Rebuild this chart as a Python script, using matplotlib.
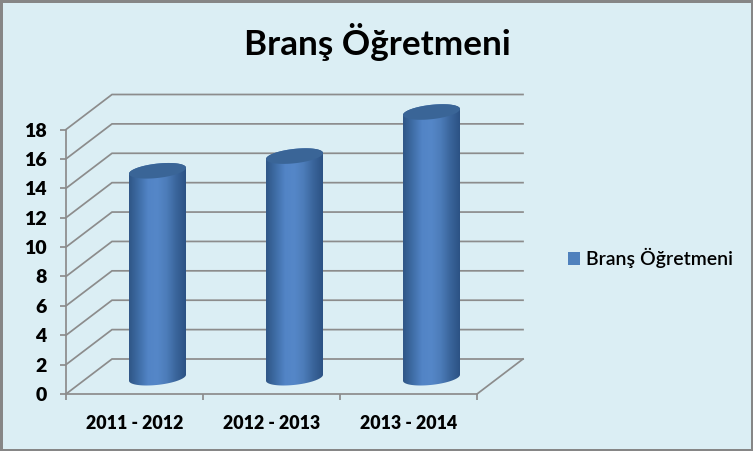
import numpy as np
import matplotlib
matplotlib.use("Agg")
import matplotlib.pyplot as plt
from matplotlib.colors import LinearSegmentedColormap
from matplotlib.patches import Patch, Polygon, Rectangle

categories = ["2011 - 2012", "2012 - 2013", "2013 - 2014"]
series_name = "Branş Öğretmeni"
values = [14, 15, 18]
y_ticks = [0, 2, 4, 6, 8, 10, 12, 14, 16, 18]

W, H = 753, 451
BG = "#DBEEF4"
LINE = "#8C8C8C"
plt.rcParams["font.family"] = ["Lato", "DejaVu Sans"]

fig = plt.figure(figsize=(W / 100, H / 100), dpi=100, facecolor=BG)
fig.add_artist(Rectangle((0, 0), 1, 1, transform=fig.transFigure, fill=False,
                         edgecolor="#868686", linewidth=3.6, zorder=20))

L, R, T, B = 66, 477, 129.5, 394
ax = fig.add_axes([L / W, 1 - B / H, (R - L) / W, (B - T) / H])
ax.set_xlim(-0.5, 2.5)
ax.set_ylim(0, 18)
ax.patch.set_alpha(0)

px_x = (R - L) / 3
px_y = (B - T) / 18
DX = 46 / px_x    # depth shift in category units
DY = 35 / px_y    # depth shift in value units

# walls
for v in y_ticks:
    ax.plot([-0.5, -0.5 + DX, 2.5 + DX], [v, v + DY, v + DY], color=LINE, lw=1.25,
            clip_on=False, zorder=1, solid_joinstyle="miter")
ax.plot([2.5, 2.5 + DX], [0, DY], color=LINE, lw=1.25, clip_on=False, zorder=1)

for s in ("top", "right"):
    ax.spines[s].set_visible(False)
for s in ("left", "bottom"):
    ax.spines[s].set_color(LINE)
    ax.spines[s].set_linewidth(1.25)
    ax.spines[s].set_zorder(1)

ax.set_yticks(y_ticks)
ax.set_xticks([-0.5, 0.5, 1.5, 2.5])
ax.set_xticklabels([])
ax.set_xticks([0, 1, 2], minor=True)
ax.set_xticklabels(categories, minor=True, fontsize=12.8, fontweight="heavy")
ax.tick_params(axis="x", which="major", length=4.5, width=1.25, color=LINE)
ax.tick_params(axis="x", which="minor", length=0, pad=15)
ax.tick_params(axis="y", length=4.5, width=1.25, color=LINE, pad=9.5, labelsize=14)
for t in ax.get_yticklabels():
    t.set_fontweight("heavy")

# cylinders
cmap = LinearSegmentedColormap.from_list(
    "cyl", ["#2F5686", "#3F6DA6", "#5284C6", "#5587C8", "#4C7CB9", "#3A659B", "#2C5284"])
grad = np.linspace(0, 1, 128).reshape(1, -1)
half_w = 28.5 / px_x
b = 7.2 / px_y
s = 3.0 / px_y
t = np.linspace(0, 2 * np.pi, 120)

for i, v in enumerate(values):
    cx = i + DX / 2
    y0 = DY / 2 - 1.2 / px_y
    y1 = v + DY / 2
    xs_top = cx + half_w * np.cos(t)
    ys_top = y1 + b * np.sin(t) + s * np.cos(t)
    xs_low = cx + half_w * np.cos(t[60:])
    ys_low = y0 + b * np.sin(t[60:]) + s * np.cos(t[60:])
    body = np.column_stack([
        np.r_[cx + half_w * np.cos(t[:60]), xs_low],
        np.r_[y1 + b * np.sin(t[:60]) + s * np.cos(t[:60]), ys_low],
    ])
    clip = Polygon(body, closed=True, transform=ax.transData, facecolor="none", edgecolor="none")
    ax.add_patch(clip)
    clip.set_clip_on(False)
    im = ax.imshow(grad, cmap=cmap, aspect="auto", zorder=3,
                   extent=[cx - half_w, cx + half_w, y0 - 1, y1 + 1], interpolation="bilinear")
    im.set_clip_box(fig.bbox)
    im.set_clip_path(clip)
    ax.add_patch(Polygon(np.column_stack([xs_top, ys_top]), closed=True, facecolor="#3A6597",
                         edgecolor="none", zorder=4, clip_on=False))

ax.set_xlim(-0.5, 2.5)
ax.set_ylim(0, 18)

leg = fig.legend(handles=[Patch(facecolor="#4F81BD", label=series_name)],
                 loc="center left", bbox_to_anchor=(568 / W, 1 - 258 / H), frameon=False,
                 fontsize=14, handlelength=0.62, handleheight=0.62, handletextpad=0.31,
                 borderpad=0, borderaxespad=0)
for tx in leg.get_texts():
    tx.set_fontweight("semibold")

fig.text(377.5 / W, 1 - 42 / H, series_name, ha="center", va="center",
         fontsize=25.3, fontweight="bold", color="black")

fig.savefig("out.png", dpi=100, facecolor=BG)
